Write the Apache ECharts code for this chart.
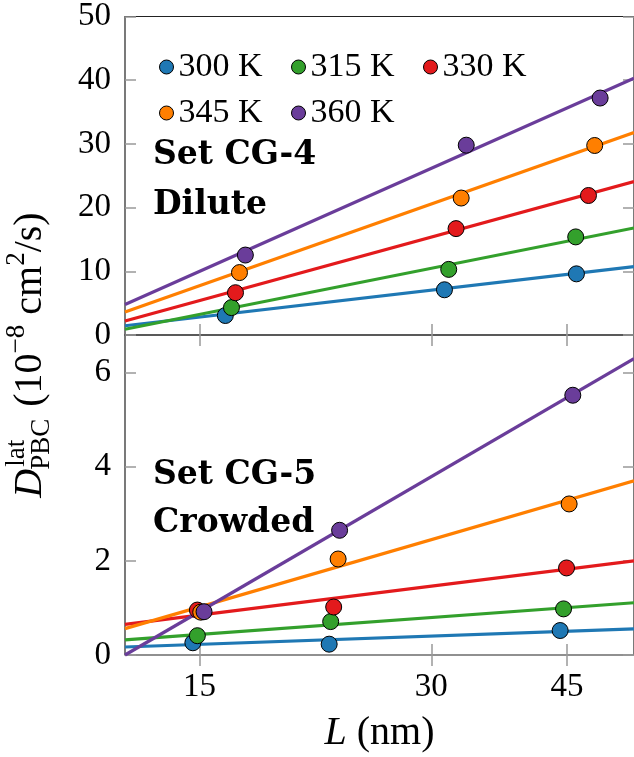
<!DOCTYPE html>
<html><head><meta charset="utf-8">
<script src="https://cdn.jsdelivr.net/npm/echarts@6/dist/echarts.min.js"></script>
<style>html,body{margin:0;padding:0;background:#fff}#c{width:634px;height:757px}</style>
</head><body><div id="c"></div>
<script>
// ---------- data ----------
const temperatures = ['300 K', '315 K', '330 K', '345 K', '360 K'];
const xTickValues = [15, 30, 45];
const yTicksDilute = [0, 10, 20, 30, 40, 50];
const yTicksCrowded = [0, 2, 4, 6];
const fitL = [12, 55];

// Set CG-4 (Dilute): box size L (nm) and D values
const diluteL300 = [16.2, 31.2, 46.3];
const diluteL315 = [16.5, 31.6, 46.2];
const diluteL330 = [16.7, 32.3, 48.0];
const diluteL345 = [16.9, 32.8, 48.9];
const diluteL360 = [17.2, 33.3, 49.7];
const diluteD300 = [3.06, 7.1, 9.6];
const diluteD315 = [4.3, 10.3, 15.4];
const diluteD330 = [6.64, 16.7, 21.9];
const diluteD345 = [9.8, 21.5, 29.75];
const diluteD360 = [12.55, 29.8, 37.2];
// fitted lines, values at L = 12 and L = 55
const diluteFit300 = [1.45, 10.73];
const diluteFit315 = [0.9, 16.8];
const diluteFit330 = [2.2, 24.1];
const diluteFit345 = [3.6, 31.8];
const diluteFit360 = [4.8, 40.3];

// Set CG-5 (Crowded)
const crowdedL300 = [14.7, 22.1, 44.1];
const crowdedL315 = [14.9, 22.2, 44.55];
const crowdedL330 = [14.9, 22.4, 44.95];
const crowdedL345 = [15.05, 22.7, 45.3];
const crowdedL360 = [15.2, 22.8, 45.8];
const crowdedD300 = [0.26, 0.23, 0.52];
const crowdedD315 = [0.41, 0.71, 0.98];
const crowdedD330 = [0.955, 1.02, 1.85];
const crowdedD345 = [0.91, 2.04, 3.21];
const crowdedD360 = [0.92, 2.65, 5.52];
const crowdedFit300 = [0.17, 0.555];
const crowdedFit315 = [0.32, 1.11];
const crowdedFit330 = [0.65, 2.0];
const crowdedFit345 = [0.56, 3.70];
const crowdedFit360 = [0.0, 6.30];

// ---------- styling ----------
const colors = ['#1f78b4', '#33a02c', '#e31a1c', '#ff7f00', '#6a3d9a'];
const SERIF = 'Liberation Serif';
const TICK_FONT = 33;

const diluteL = [diluteL300, diluteL315, diluteL330, diluteL345, diluteL360];
const diluteD = [diluteD300, diluteD315, diluteD330, diluteD345, diluteD360];
const diluteFit = [diluteFit300, diluteFit315, diluteFit330, diluteFit345, diluteFit360];
const crowdedL = [crowdedL300, crowdedL315, crowdedL330, crowdedL345, crowdedL360];
const crowdedD = [crowdedD300, crowdedD315, crowdedD330, crowdedD345, crowdedD360];
const crowdedFit = [crowdedFit300, crowdedFit315, crowdedFit330, crowdedFit345, crowdedFit360];

const zip = (a, b) => a.map((v, i) => [v, b[i]]);

const chart = echarts.init(document.getElementById('c'), null, {renderer: 'canvas'});

const tickStyle = {show: true, inside: true, length: 11, lineStyle: {color: '#999', width: 1.5}};

function xAx(gridIndex, position, labels) {
  return {
    type: 'log', logBase: 10, gridIndex, position, min: 12, max: 55,
    axisLine: {show: false},
    axisTick: Object.assign({customValues: xTickValues}, tickStyle),
    axisLabel: labels ? {show: true, customValues: xTickValues, margin: 16, color: '#000',
      fontFamily: SERIF, fontSize: TICK_FONT, formatter: v => String(Math.round(v))} : {show: false},
    splitLine: {show: false},
    name: labels ? '{i|L}{n| (nm)}' : '',
    nameLocation: 'middle', nameGap: 58,
    nameTextStyle: {fontFamily: SERIF, rich: {
      i: {fontFamily: SERIF, fontStyle: 'italic', fontSize: 40, color: '#000'},
      n: {fontFamily: SERIF, fontSize: 40, color: '#000'}
    }}
  };
}
function yAx(gridIndex, position, max, ticks, labels) {
  return {
    type: 'value', gridIndex, position, min: 0, max,
    axisLine: {show: false},
    axisTick: Object.assign({customValues: ticks}, tickStyle),
    axisLabel: labels ? {show: true, customValues: ticks, margin: 14, color: '#000',
      fontFamily: SERIF, fontSize: TICK_FONT} : {show: false},
    splitLine: {show: false}
  };
}

const series = [];
temperatures.forEach((t, k) => {
  series.push({name: t + ' fit (dilute)', type: 'line', xAxisIndex: 0, yAxisIndex: 0,
    data: zip(fitL, diluteFit[k]), showSymbol: false, symbol: 'none', clip: false, silent: true,
    lineStyle: {color: colors[k], width: 3.2}, z: 2});
  series.push({name: t + ' fit (crowded)', type: 'line', xAxisIndex: 2, yAxisIndex: 2,
    data: zip(fitL, crowdedFit[k]), showSymbol: false, symbol: 'none', clip: false, silent: true,
    lineStyle: {color: colors[k], width: 3.2}, z: 2});
});
temperatures.forEach((t, k) => {
  series.push({name: t, type: 'scatter', xAxisIndex: 0, yAxisIndex: 0,
    data: zip(diluteL[k], diluteD[k]), symbol: 'circle', symbolSize: 16, clip: false,
    itemStyle: {color: colors[k], borderColor: '#000', borderWidth: 1, opacity: 1}, z: 5});
  series.push({name: t, type: 'scatter', xAxisIndex: 2, yAxisIndex: 2,
    data: zip(crowdedL[k], crowdedD[k]), symbol: 'circle', symbolSize: 16, clip: false,
    itemStyle: {color: colors[k], borderColor: '#000', borderWidth: 1, opacity: 1}, z: 5});
});

// legends: one per item, 3 + 2 layout
const legendPos = [[159, 50], [291, 50], [423, 50], [159, 96], [291, 96]];
const legends = temperatures.map((t, k) => ({
  data: [t], left: legendPos[k][0], top: legendPos[k][1], padding: 0,
  icon: 'circle', itemWidth: 14, itemHeight: 14, itemGap: 0, selectedMode: false,
  itemStyle: {borderColor: '#000', borderWidth: 1},
  textStyle: {fontFamily: SERIF, fontSize: 34, color: '#000'}
}));

// y-axis title (rotated, stacked super/subscript); advance widths in em of Liberation Serif
const MAIN = 40, SMALL = 27;
const EM = {D: 0.722, lat: 1.0, PBC: 1.89, open: 1.333, exp: 1.064, cm: 1.222, two: 0.5, close: 1.0};
const parts = [];
let x = 0;
parts.push({t: 'D', x: 0, y: 0, s: MAIN, st: 'italic'});
const wD = EM.D * MAIN;
parts.push({t: 'lat', x: wD + 2, y: -13, s: SMALL});
parts.push({t: 'PBC', x: wD - 1, y: 12, s: SMALL});
x = wD + Math.max(EM.lat * SMALL + 2, EM.PBC * SMALL - 1) + 12;
parts.push({t: '(10', x, y: 0, s: MAIN}); x += EM.open * MAIN;
parts.push({t: '\u22128', x, y: -13, s: SMALL}); x += EM.exp * SMALL + 10;
parts.push({t: 'cm', x, y: 0, s: MAIN}); x += EM.cm * MAIN;
parts.push({t: '2', x, y: -13, s: SMALL}); x += EM.two * SMALL;
parts.push({t: '/s)', x, y: 0, s: MAIN}); x += EM.close * MAIN;
const W = x;
const yTitle = {
  type: 'group', x: 30, y: 355 + W / 2, rotation: Math.PI / 2,
  children: parts.map(p => ({type: 'text', x: p.x, y: p.y, style: {
    text: p.t, fontFamily: SERIF, fontSize: p.s, fontStyle: p.st || 'normal', fill: '#000',
    align: 'left', verticalAlign: 'middle'}}))
};

const boldFont = {fontFamily: 'DejaVu Serif', fontWeight: 'bold', fontSize: 33, fill: '#000',
  align: 'left', verticalAlign: 'middle'};
const annotations = [
  {type: 'text', x: 153, y: 155, style: Object.assign({text: 'Set CG-4'}, boldFont)},
  {type: 'text', x: 153, y: 205, style: Object.assign({text: 'Dilute'}, boldFont)},
  {type: 'text', x: 153, y: 475, style: Object.assign({text: 'Set CG-5'}, boldFont)},
  {type: 'text', x: 153, y: 523, style: Object.assign({text: 'Crowded'}, boldFont)}
];

chart.setOption({
  animation: false,
  backgroundColor: '#fff',
  textStyle: {fontFamily: SERIF, color: '#000'},
  grid: [
    {left: 125, right: -7, top: 14, height: 321, show: true, borderColor: '#222', borderWidth: 1.2},
    {left: 125, right: -7, top: 335, height: 320, show: true, borderColor: '#222', borderWidth: 1.2}
  ],
  xAxis: [xAx(0, 'bottom', false), xAx(0, 'top', false), xAx(1, 'bottom', true), xAx(1, 'top', false)],
  yAxis: [yAx(0, 'left', 50, yTicksDilute, true), yAx(0, 'right', 50, yTicksDilute, false),
          yAx(1, 'left', 6.8, yTicksCrowded, true), yAx(1, 'right', 6.8, yTicksCrowded, false)],
  legend: legends,
  series,
  graphic: [yTitle].concat(annotations)
});
</script></body></html>
